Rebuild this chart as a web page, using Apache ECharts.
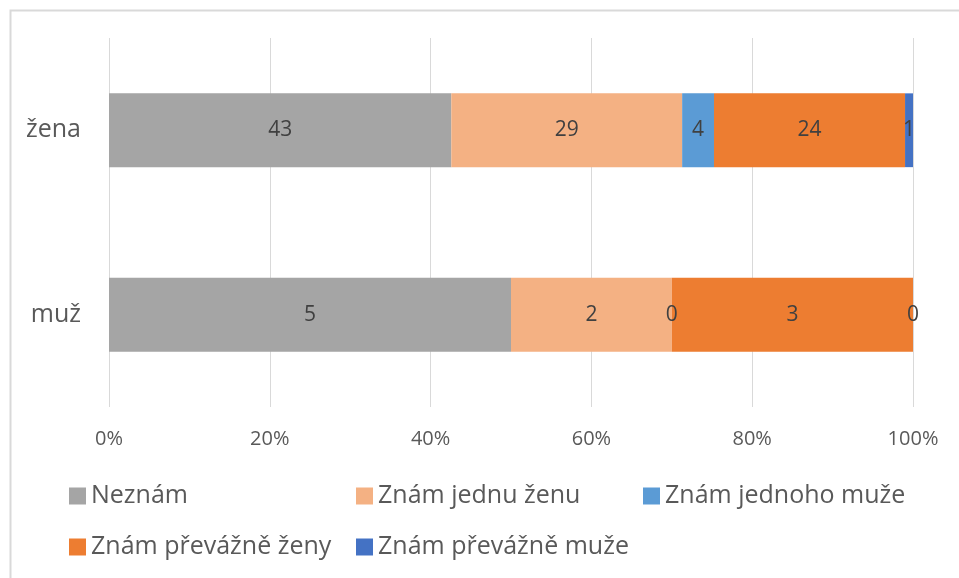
<!DOCTYPE html>
<html>
<head>
<meta charset="utf-8">
<script src="https://cdn.jsdelivr.net/npm/echarts@6/dist/echarts.min.js"></script>
<style>
    html, body { margin: 0; padding: 0; background: #fff; }
    #chart { width: 959px; height: 578px; }
</style>
</head>
<body>
<div id="chart"></div>
<script>
// categories, bottom to top
const categories = ['muž', 'žena'];
const seriesNames = ['Neznám', 'Znám jednu ženu', 'Znám jednoho muže', 'Znám převážně ženy', 'Znám převážně muže'];
const seriesColors = ['#A5A5A5', '#F4B183', '#5B9BD5', '#ED7D31', '#4472C4'];
// raw counts per series, same order as categories
const neznam = [5, 43];
const jednuZenu = [2, 29];
const jednohoMuze = [0, 4];
const prevazneZeny = [3, 24];
const prevazneMuze = [0, 1];
const xTicks = [0, 20, 40, 60, 80, 100];

const rawValues = [neznam, jednuZenu, jednohoMuze, prevazneZeny, prevazneMuze];
const font = 'Open Sans';

// totals per category for 100% stacking
let totals = categories.map((c, i) => rawValues.reduce((s, arr) => s + arr[i], 0));

let chart = echarts.init(document.getElementById('chart'));
chart.setOption({
    backgroundColor: '#fff',
    animation: false,
    textStyle: { fontFamily: font },
    graphic: [{
        type: 'rect',
        left: 8,
        top: 8,
        shape: { width: 1000, height: 1000 },
        style: { fill: 'none', stroke: '#D9D9D9', lineWidth: 2 },
        silent: true
    }],
    grid: {
        left: 109,
        right: 46,
        top: 38,
        bottom: 171
    },
    legend: [{
        left: 69,
        top: 483,
        padding: 0,
        itemWidth: 17,
        itemHeight: 17,
        itemGap: 0,
        icon: 'rect',
        data: seriesNames.slice(0, 3),
        textStyle: { fontSize: 25, lineHeight: 26, color: '#595959', width: 265, fontFamily: font }
    }, {
        left: 69,
        top: 534,
        padding: 0,
        itemWidth: 17,
        itemHeight: 17,
        itemGap: 0,
        icon: 'rect',
        data: seriesNames.slice(3),
        textStyle: { fontSize: 25, lineHeight: 26, color: '#595959', width: 265, fontFamily: font }
    }],
    xAxis: {
        type: 'value',
        min: xTicks[0],
        max: xTicks[xTicks.length - 1],
        interval: 20,
        axisLine: { show: false },
        axisTick: { show: false },
        axisLabel: {
            margin: 22,
            fontSize: 20,
            color: '#595959',
            formatter: '{value}%'
        },
        splitLine: { lineStyle: { color: '#D9D9D9', width: 1 } }
    },
    yAxis: {
        type: 'category',
        data: categories,
        axisLine: { show: false },
        axisTick: { show: false },
        axisLabel: { margin: 28, fontSize: 25, color: '#595959' }
    },
    series: seriesNames.map((name, k) => ({
        name: name,
        type: 'bar',
        stack: 'total',
        barCategoryGap: '60%',
        itemStyle: { color: seriesColors[k] },
        label: {
            show: true,
            position: 'inside',
            fontSize: 21,
            color: '#404040',
            formatter: p => rawValues[k][p.dataIndex]
        },
        data: rawValues[k].map((v, i) => v / totals[i] * 100)
    }))
});
</script>
</body>
</html>
